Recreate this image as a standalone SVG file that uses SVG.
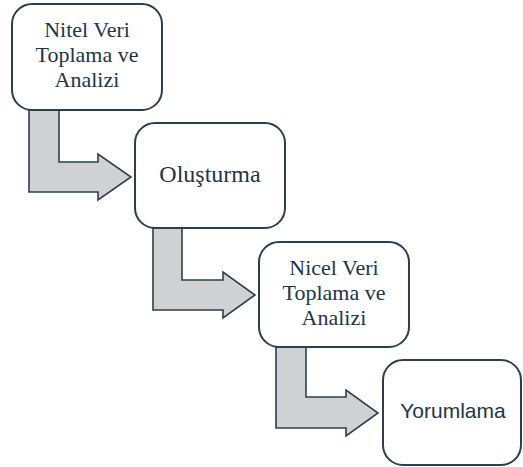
<svg xmlns="http://www.w3.org/2000/svg" width="523" height="467" viewBox="0 0 523 467">
  <style>
    .box { fill: #ffffff; stroke: #2c3e50; stroke-width: 2; }
    .arrow { fill: #d0d1d3; stroke: #2c3e50; stroke-width: 1.6; stroke-linejoin: miter; }
    .serif { font-family: "Liberation Serif", "Times New Roman", serif; font-size: 22px; fill: #22344a; text-anchor: middle; }
    .sans { font-family: "Liberation Sans", Arial, sans-serif; font-size: 21px; fill: #22344a; text-anchor: middle; }
  </style>
  <rect width="523" height="467" fill="#ffffff"/>

  <!-- bent block arrows between the steps -->
  <g id="connectors">
    <polygon class="arrow" points="29,110 59,110 59,162 98,162 98,154 131,177 98,200 98,192 29,192"/>
    <polygon class="arrow" points="153,228 182,228 182,280 223,280 223,272 255,295 223,318 223,310 153,310"/>
    <polygon class="arrow" points="276,347 306,347 306,397 346,397 346,390 378,413 346,436 346,428 276,428"/>
  </g>

  <g id="nitel">
    <rect class="box" x="12" y="4" width="150" height="106" rx="20"/>
    <text class="serif" x="87" y="37">Nitel Veri</text>
    <text class="serif" x="87" y="62">Toplama ve</text>
    <text class="serif" x="87" y="87">Analizi</text>
  </g>

  <g id="olusturma">
    <rect class="box" x="135" y="123" width="150" height="105" rx="20"/>
    <text class="serif" x="210" y="182" style="font-size:24px">Oluşturma</text>
  </g>

  <g id="nicel">
    <rect class="box" x="259" y="242" width="150" height="105" rx="20"/>
    <text class="serif" x="334" y="275">Nicel Veri</text>
    <text class="serif" x="334" y="300">Toplama ve</text>
    <text class="serif" x="334" y="325">Analizi</text>
  </g>

  <g id="yorumlama">
    <rect class="box" x="383" y="360" width="138" height="105" rx="20"/>
    <text class="sans" x="453" y="418">Yorumlama</text>
  </g>
</svg>
